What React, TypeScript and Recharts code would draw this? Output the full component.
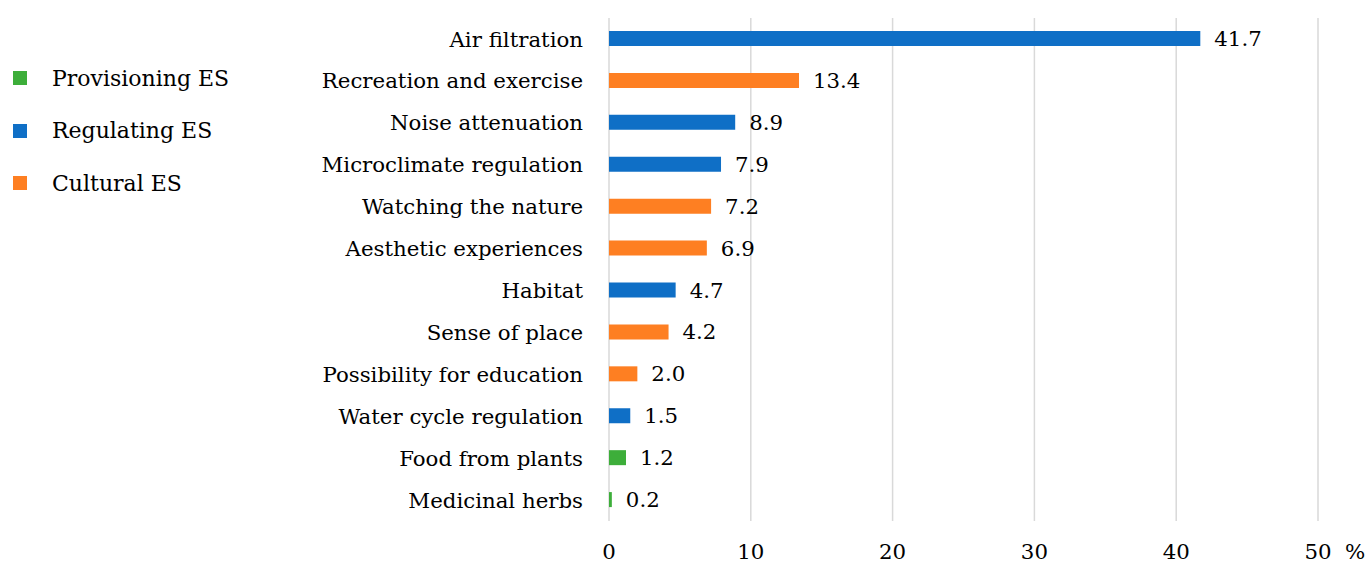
import React from 'react';
import { BarChart, Bar, XAxis, YAxis, CartesianGrid, Cell, LabelList, Legend } from 'recharts';

const categories = [
  'Air filtration',
  'Recreation and exercise',
  'Noise attenuation',
  'Microclimate regulation',
  'Watching the nature',
  'Aesthetic experiences',
  'Habitat',
  'Sense of place',
  'Possibility for education',
  'Water cycle regulation',
  'Food from plants',
  'Medicinal herbs',
];
const values = [41.7, 13.4, 8.9, 7.9, 7.2, 6.9, 4.7, 4.2, 2.0, 1.5, 1.2, 0.2];
const groups = ['R', 'C', 'R', 'R', 'C', 'C', 'R', 'C', 'C', 'R', 'P', 'P'];
const xTicks = [0, 10, 20, 30, 40, 50];
const legendItems = [
  { key: 'P', label: 'Provisioning ES' },
  { key: 'R', label: 'Regulating ES' },
  { key: 'C', label: 'Cultural ES' },
];
const groupColors: Record<string, string> = { P: '#3dae3a', R: '#0f6fc6', C: '#fe7f22' };

const data = categories.map((name, i) => ({ name, value: values[i], group: groups[i] }));

const FONT = '"DejaVu Serif", serif';
const FS = 21.3;
const LEGEND_W = 280;

const XTick = (props: any) => {
  const { x, y, payload } = props;
  const last = payload.value === xTicks[xTicks.length - 1];
  return (
    <g>
      <text x={x} y={y} dy="0.71em" textAnchor="middle" fontFamily={FONT} fontSize={FS} fill="#000">
        {payload.value}
      </text>
      {last && (
        <text x={x + 37} y={y} dy="0.71em" textAnchor="middle" fontFamily={FONT} fontSize={FS} fill="#000">
          %
        </text>
      )}
    </g>
  );
};

const LegendContent = () => (
  <div style={{ fontFamily: FONT, fontSize: 22, color: '#000', width: LEGEND_W }}>
    {legendItems.map((it) => (
      <div key={it.key} style={{ display: 'flex', alignItems: 'center', height: 52.5 }}>
        <div style={{ width: 14, height: 14, background: groupColors[it.key], marginLeft: 13, marginRight: 25, flex: 'none' }} />
        <span style={{ whiteSpace: 'nowrap' }}>{it.label}</span>
      </div>
    ))}
  </div>
);

export default function App() {
  return (
    <div style={{ position: 'absolute', left: 0, top: 0, width: 1367, height: 567, background: '#fff' }}>
      <BarChart
        width={1367}
        height={567}
        data={data}
        layout="vertical"
        margin={{ top: 18, right: 49, bottom: 16, left: 0 }}
        barCategoryGap={0}
      >
        <CartesianGrid horizontal={false} vertical={true} stroke="#d9d9d9" strokeWidth={1.5} />
        <XAxis
          type="number"
          domain={[0, 50]}
          ticks={xTicks}
          axisLine={false}
          tickLine={false}
          tickSize={0}
          tickMargin={23}
          height={30}
          tick={<XTick />}
        />
        <YAxis
          type="category"
          dataKey="name"
          width={609 - LEGEND_W}
          axisLine={false}
          tickLine={false}
          tickSize={0}
          tickMargin={26}
          interval={0}
          tick={{ fontFamily: FONT, fontSize: FS, fill: '#000' }}
        />
        <Legend
          layout="vertical"
          align="left"
          verticalAlign="top"
          wrapperStyle={{ left: 0, top: 52, width: LEGEND_W }}
          content={<LegendContent />}
        />
        <Bar dataKey="value" barSize={15} isAnimationActive={false}>
          {data.map((d, i) => (
            <Cell key={i} fill={groupColors[d.group]} />
          ))}
          <LabelList
            dataKey="value"
            position="right"
            offset={14}
            formatter={(v: any) => Number(v).toFixed(1)}
            style={{ fontFamily: FONT, fontSize: FS, fill: '#000' }}
          />
        </Bar>
      </BarChart>
    </div>
  );
}
